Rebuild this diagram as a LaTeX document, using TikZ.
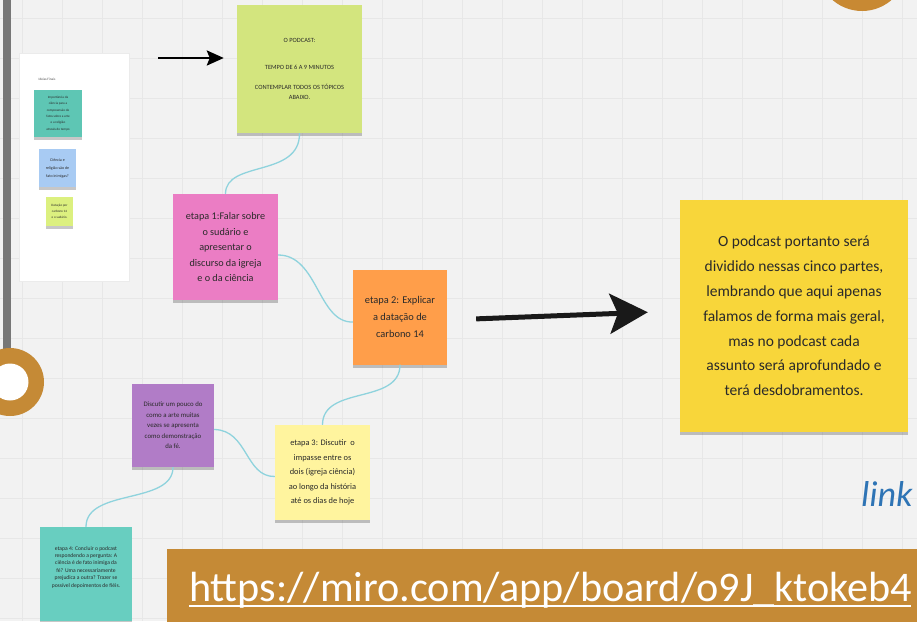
\documentclass[tikz,border=0pt]{standalone}
\usepackage{fontspec}
\setmainfont{Carlito}
\usetikzlibrary{arrows.meta,shadows}
\definecolor{bg}{HTML}{F2F2F2}
\definecolor{gridc}{HTML}{E7E7E7}
\definecolor{barc}{HTML}{777777}
\definecolor{ochre}{HTML}{C58A36}
\definecolor{podgreen}{HTML}{D3E57E}
\definecolor{pinkn}{HTML}{EB7DC4}
\definecolor{orangen}{HTML}{FF9E4A}
\definecolor{yellown}{HTML}{F8D63A}
\definecolor{purplen}{HTML}{B17CC7}
\definecolor{lyellown}{HTML}{FFF49E}
\definecolor{tealn}{HTML}{68CEC0}
\definecolor{tealsm}{HTML}{5EC6B4}
\definecolor{bluesm}{HTML}{A8CBF3}
\definecolor{greensm}{HTML}{DCF07F}
\definecolor{connc}{HTML}{8FD3DD}
\definecolor{linkblue}{HTML}{2E74B5}
\definecolor{inkc}{HTML}{2A2A2A}
\begin{document}
\begin{tikzpicture}[x=1pt,y=-1pt,
  sticky/.style={rectangle, inner sep=0pt, align=center, text=inkc,
    drop shadow={shadow xshift=0pt, shadow yshift=-3pt, opacity=0.22, fill=black}},
  conn/.style={draw=connc, line width=1.3pt},
  smallarrow/.style={draw=black, line width=2.6pt, -{Stealth[length=17pt,width=15pt,inset=3pt]}},
  bigarrow/.style={draw=black!90, line width=5pt, -{Stealth[length=38pt,width=40pt,inset=8pt]}}
]
\useasboundingbox (0,0) rectangle (917,621);
\clip (0,0) rectangle (917,621);
\fill[bg] (0,0) rectangle (917,621);
\foreach \gx in {22,62,...,922} \draw[gridc, line width=0.6pt] (\gx,0) -- (\gx,621);
\foreach \gy in {18,58,...,640} \draw[gridc, line width=0.6pt] (0,\gy) -- (917,\gy);

% decorations
\fill[barc] (3,0) rectangle (11,352);
\fill[ochre] (10,382) circle (34);
\fill[white] (10,382) circle (18.5);
\fill[ochre!95!orange] (862,-34) circle (45);

% left panel
\node[rectangle, fill=white, draw=black!8, minimum width=110, minimum height=228,
  drop shadow={shadow xshift=1pt, shadow yshift=-1pt, opacity=0.12, fill=black}] (panel) at (74,167) {};
\node[font=\fontsize{3.4}{4}\selectfont, text=black!70] (ptitle) at (47,79) {Ideias Finais};
\node[sticky, fill=tealsm, minimum width=48, minimum height=47,
  font=\fontsize{3.3}{6.4}\selectfont] (s1) at (58,113.5)
  {Importância da\\ciência para a\\compreensão de\\fatos sobre a arte\\e a religião\\através do tempo};
\node[sticky, fill=bluesm, minimum width=37, minimum height=38,
  font=\fontsize{4}{8}\selectfont] (s2) at (57.5,168)
  {Ciência e\\religião são de\\fato inimigas?};
\node[sticky, fill=greensm, minimum width=27, minimum height=29,
  font=\fontsize{3.3}{6}\selectfont] (s3) at (59.5,211.5)
  {Datação por\\carbono 14\\e o sudário.};

% main stickies
\node[sticky, fill=podgreen, minimum width=125, minimum height=128,
  font=\fontsize{6.4}{10.5}\selectfont] (podcast) at (299.5,69)
  {O PODCAST:\\[17pt]TEMPO DE 6 A 9 MINUTOS\\[9pt]CONTEMPLAR TODOS OS TÓPICOS\\ABAIXO.};
\node[sticky, fill=pinkn, minimum width=105, minimum height=106,
  font=\fontsize{10.2}{15.5}\selectfont] (etapa1) at (225.5,247)
  {etapa 1:Falar sobre\\o sudário e\\apresentar o\\discurso da igreja\\e o da ciência};
\node[sticky, fill=orangen, minimum width=94, minimum height=95,
  font=\fontsize{10.4}{17}\selectfont] (etapa2) at (400,317)
  {etapa 2: Explicar\\a datação de\\carbono 14};
\node[sticky, fill=yellown, minimum width=228, minimum height=232,
  font=\fontsize{15.5}{24.8}\selectfont] (final) at (794,316)
  {O podcast portanto será\\dividido nessas cinco partes,\\lembrando que aqui apenas\\falamos de forma mais geral,\\mas no podcast cada\\assunto será aprofundado e\\terá desdobramentos.};
\node[sticky, fill=purplen, minimum width=82, minimum height=83,
  font=\fontsize{6.8}{10.5}\selectfont] (arte) at (173,425.5)
  {Discutir um pouco do\\como a arte muitas\\vezes se apresenta\\como demonstração\\da fé.};
\node[sticky, fill=lyellown, minimum width=95, minimum height=95,
  font=\fontsize{8.4}{14.4}\selectfont] (etapa3) at (322.5,472.5)
  {etapa 3: Discutir\ \ o\\impasse entre os\\dois (igreja ciência)\\ao longo da história\\até os dias de hoje};
\node[sticky, fill=tealn, minimum width=92, minimum height=94,
  font=\fontsize{5.6}{7.4}\selectfont] (etapa4) at (86,574) {};
\node[font=\fontsize{5.6}{7.4}\selectfont, text=inkc, align=center] (etapa4t) at (86,567)
  {etapa 4: Concluir o podcast\\respondendo a pergunta: A\\ciência é de fato inimiga da\\fé? Uma necessariamente\\prejudica a outra? Trazer se\\possível depoimentos de fiéis.};

% connectors
\draw[conn] (podcast.south) .. controls (300,178) and (225.5,160) .. (etapa1.north);
\draw[conn] ([yshift=-8pt]etapa1.east) .. controls (318,255) and (318,323) .. ([yshift=-5pt]etapa2.west);
\draw[conn] (etapa2.south) .. controls (400,405) and (322.5,385) .. (etapa3.north);
\draw[conn] ([yshift=-4pt]arte.east) .. controls (248,430) and (245,477) .. ([yshift=-4pt]etapa3.west);
\draw[conn] (arte.south) .. controls (173,505) and (86,488) .. (etapa4.north);

% arrows
\coordinate (a1s) at (158,58);
\draw[smallarrow, shorten >=13pt] (a1s) -- (a1s -| podcast.west);
\draw[bigarrow, shorten <=29pt, shorten >=32pt] ([yshift=-3pt]etapa2.east) -- ([yshift=5pt]final.west);

% link text
\node[anchor=base west, font=\itshape\fontsize{36}{44}\selectfont, text=linkblue, inner sep=0pt] (link) at (861,506) {link};

% url bar
\fill[ochre] (167,549) rectangle (930,630);
\node[anchor=base west, inner sep=0pt, text=white, font=\fontsize{42.2}{48}\selectfont] (url) at (189,601)
  {https://miro.com/app/board/o9J\_ktokeb4};
\draw[white, line width=1.4pt] (url.base west) ++(0,5) -- ++(722,0);
\end{tikzpicture}
\end{document}
